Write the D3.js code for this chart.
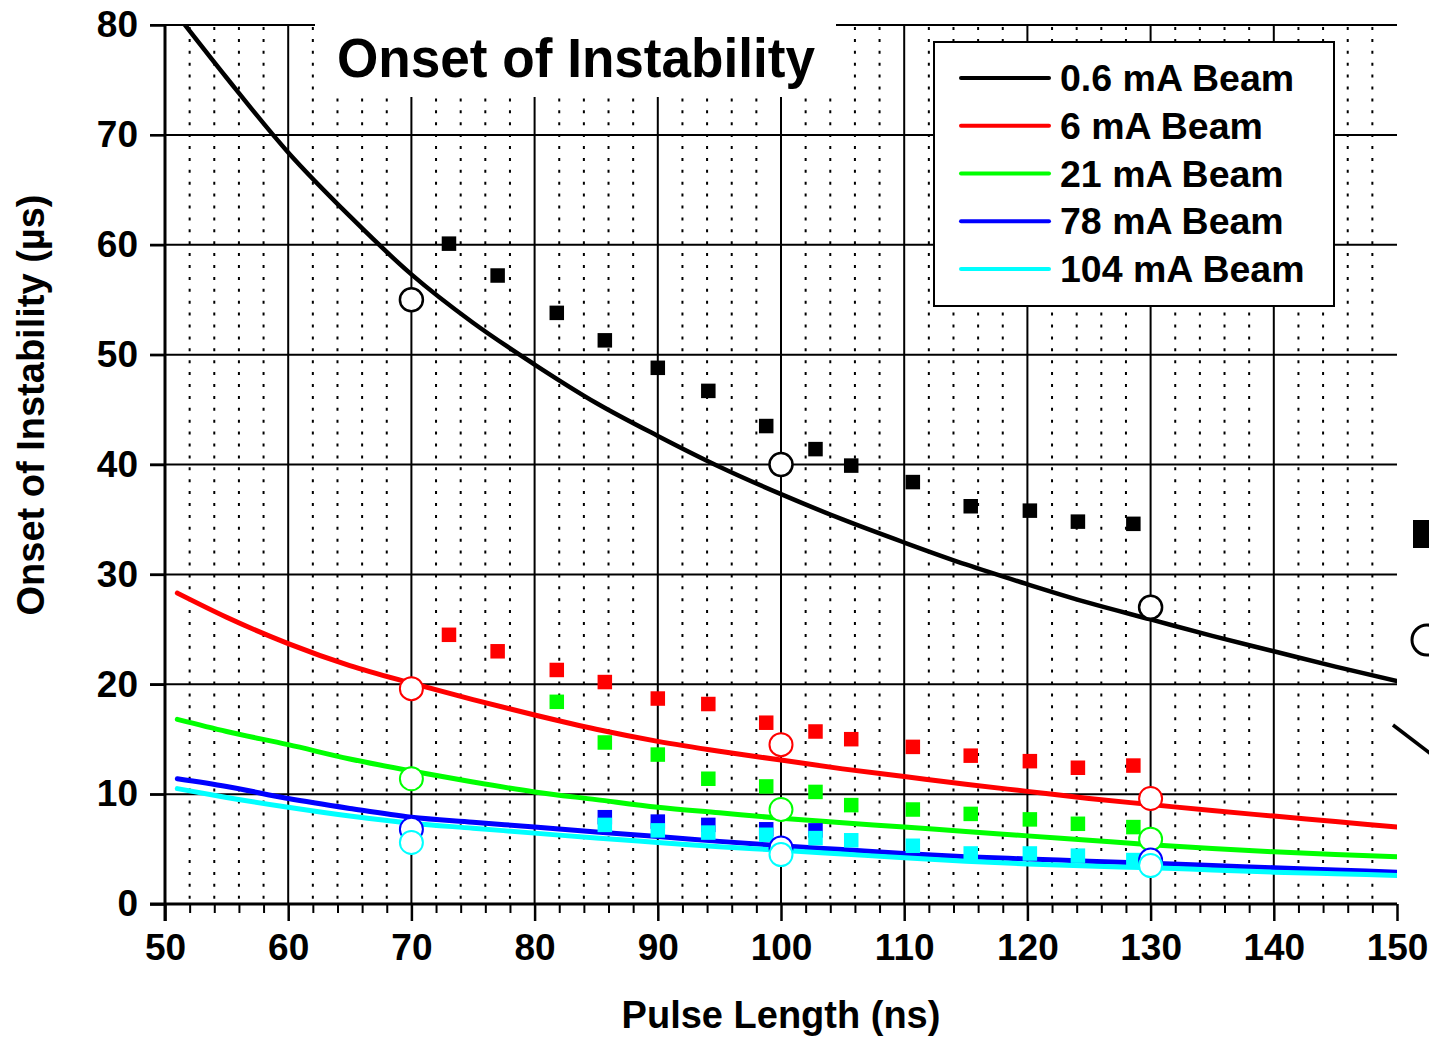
<!DOCTYPE html>
<html>
<head>
<meta charset="utf-8">
<script src="https://cdn.jsdelivr.net/npm/d3@7"></script>
<style>
  body { margin: 0; background: #fff; }
  text { font-family: "Liberation Sans", Arial, sans-serif; font-weight: bold; fill: #000; }
</style>
</head>
<body>
<svg></svg>
<script>
const width = 1429, height = 1038;

// fitted curves, read at these pulse lengths (ns)
const curveX   = [51, 55, 60, 65, 70, 75, 80, 85, 90, 95, 100, 105, 110, 115, 120, 125, 130, 135, 140, 145, 150];
const curve06  = [80.9, 75.2, 68.4, 62.6, 57.3, 52.9, 49.1, 45.6, 42.6, 39.8, 37.3, 35.0, 32.9, 30.9, 29.1, 27.4, 25.9, 24.4, 23.0, 21.6, 20.3];
const curve6   = [28.3, 26.1, 23.7, 21.7, 20.1, 18.6, 17.2, 15.9, 14.8, 13.9, 13.1, 12.3, 11.6, 10.9, 10.25, 9.6, 9.05, 8.5, 8.0, 7.5, 7.0];
const curve21  = [16.8, 15.7, 14.5, 13.2, 12.1, 11.1, 10.2, 9.5, 8.8, 8.3, 7.8, 7.4, 7.0, 6.6, 6.2, 5.8, 5.4, 5.05, 4.75, 4.5, 4.3];
const curve78  = [11.4, 10.7, 9.6, 8.7, 7.9, 7.45, 7.0, 6.55, 6.15, 5.7, 5.3, 4.95, 4.6, 4.3, 4.1, 3.9, 3.7, 3.5, 3.3, 3.1, 2.9];
const curve104 = [10.5, 9.7, 8.8, 8.0, 7.35, 6.9, 6.45, 6.0, 5.6, 5.2, 4.9, 4.55, 4.2, 3.9, 3.65, 3.45, 3.3, 3.1, 2.9, 2.75, 2.6];

// measured points (filled squares)
const pulseX  = [73.05, 77.0, 81.8, 85.7, 90.0, 94.1, 98.8, 102.8, 105.7, 110.7, 115.4, 120.2, 124.1, 128.6];
const meas06  = [60.1, 57.2, 53.8, 51.3, 48.8, 46.7, 43.5, 41.4, 39.9, 38.4, 36.2, 35.8, 34.8, 34.6];
const meas6   = [24.5, 23.0, 21.3, 20.2, 18.7, 18.2, 16.5, 15.7, 15.0, 14.3, 13.5, 13.0, 12.4, 12.6];
const meas21  = [null, null, 18.4, 14.7, 13.6, 11.4, 10.7, 10.2, 9.0, 8.6, 8.2, 7.7, 7.3, 7.0];
const meas78  = [null, null, null, 7.9, 7.5, 7.2, 6.8, 6.7, null, null, null, null, null, null];
const meas104 = [null, null, null, 7.2, 6.7, 6.5, 6.3, 6.0, 5.8, 5.3, 4.6, 4.6, 4.4, 4.0];

// open circles
const circleX   = [70, 100, 130];
const circle06  = [55.0, 40.0, 27.0];
const circle6   = [19.6, 14.5, 9.6];
const circle21  = [11.4, 8.6, 5.9];
const circle78  = [6.8, 5.1, 4.0];
const circle104 = [5.6, 4.5, 3.5];

const seriesNames  = ['0.6 mA Beam', '6 mA Beam', '21 mA Beam', '78 mA Beam', '104 mA Beam'];
const seriesColors = ['#000000', '#ff0000', '#00ff00', '#0000ff', '#00ffff'];

const xTicks = [50, 60, 70, 80, 90, 100, 110, 120, 130, 140, 150];
const yTicks = [0, 10, 20, 30, 40, 50, 60, 70, 80];

const series = [
  {curve: curve06,  meas: meas06,  circ: circle06},
  {curve: curve6,   meas: meas6,   circ: circle6},
  {curve: curve21,  meas: meas21,  circ: circle21},
  {curve: curve78,  meas: meas78,  circ: circle78},
  {curve: curve104, meas: meas104, circ: circle104}
].map((s, i) => ({...s, name: seriesNames[i], color: seriesColors[i]}));

const svg = d3.select('svg')
  .attr('width', width)
  .attr('height', height)
  .style('background', '#fff');

const x = d3.scaleLinear().domain([50, 150]).range([165, 1397]);
const y = d3.scaleLinear().domain([0, 80]).range([904, 25]);

// grid
const minor = d3.range(52, 150, 2).filter(v => v % 10 !== 0);
svg.append('g').selectAll('line').data(minor).enter().append('line')
  .attr('x1', d => x(d)).attr('x2', d => x(d))
  .attr('y1', y(80) + 2).attr('y2', y(0))
  .attr('stroke', '#000').attr('stroke-width', 2)
  .attr('stroke-dasharray', '3,8.9');

svg.append('g').selectAll('line').data(xTicks.slice(1, -1)).enter().append('line')
  .attr('x1', d => x(d)).attr('x2', d => x(d))
  .attr('y1', y(80)).attr('y2', y(0))
  .attr('stroke', '#000').attr('stroke-width', 2);

svg.append('g').selectAll('line').data(yTicks.slice(1)).enter().append('line')
  .attr('x1', 150).attr('x2', x(150))
  .attr('y1', d => y(d)).attr('y2', d => y(d))
  .attr('stroke', '#000').attr('stroke-width', 2);

// white patch behind the title
svg.append('rect').attr('x', 315).attr('y', 0).attr('width', 521).attr('height', 97).attr('fill', '#fff');

// axes
const xAxis = svg.append('g')
  .attr('transform', `translate(0,${y(0)})`)
  .call(d3.axisBottom(x).tickValues(xTicks).tickSize(17).tickPadding(13).tickFormat(d3.format('d')));
xAxis.select('.domain').remove();
xAxis.selectAll('line').attr('stroke-width', 2.5);
xAxis.selectAll('text').style('font-size', '37px').attr('dy', '0.71em').attr('fill', '#000');

svg.append('g')
  .attr('transform', `translate(0,${y(0)})`)
  .call(d3.axisBottom(x).tickValues(minor).tickSize(9).tickFormat(''))
  .call(g => g.select('.domain').remove())
  .selectAll('line').attr('stroke-width', 2);

svg.append('line')
  .attr('x1', 150).attr('x2', x(150)).attr('y1', y(0)).attr('y2', y(0))
  .attr('stroke', '#000').attr('stroke-width', 3);

const yAxis = svg.append('g')
  .attr('transform', `translate(${x(50)},0)`)
  .call(d3.axisLeft(y).tickValues(yTicks).tickSize(15).tickPadding(12));
yAxis.select('.domain').attr('stroke-width', 3).attr('d', `M0,${y(80)}V${y(0) + 17}`);
yAxis.selectAll('line').attr('stroke-width', 2.5);
yAxis.selectAll('text').style('font-size', '37px').attr('fill', '#000');

// clip for curves
svg.append('clipPath').attr('id', 'plot')
  .append('rect').attr('x', x(50)).attr('y', y(80)).attr('width', x(150) - x(50)).attr('height', y(0) - y(80));

const line = d3.line().x(d => x(d[0])).y(d => y(d[1])).curve(d3.curveMonotoneX);

svg.append('g').attr('clip-path', 'url(#plot)')
  .selectAll('path').data(series).enter().append('path')
  .attr('d', s => line(curveX.map((v, i) => [v, s.curve[i]])))
  .attr('fill', 'none')
  .attr('stroke', s => s.color)
  .attr('stroke-width', s => s.color === '#000000' ? 4.5 : 5)
  .attr('stroke-linecap', 'round');

// measured squares
const sq = 14.5;
series.forEach(s => {
  svg.append('g').selectAll('rect')
    .data(pulseX.map((v, i) => [v, s.meas[i]]).filter(d => d[1] != null))
    .enter().append('rect')
    .attr('x', d => x(d[0]) - sq / 2).attr('y', d => y(d[1]) - sq / 2)
    .attr('width', sq).attr('height', sq)
    .attr('fill', s.color);
});

// open circles
series.forEach(s => {
  svg.append('g').selectAll('circle')
    .data(circleX.map((v, i) => [v, s.circ[i]]))
    .enter().append('circle')
    .attr('cx', d => x(d[0])).attr('cy', d => y(d[1])).attr('r', 11.5)
    .attr('fill', '#fff').attr('stroke', s.color)
    .attr('stroke-width', s.color === '#000000' ? 2.5 : 2);
});

// title
svg.append('text')
  .attr('x', 576).attr('y', 77)
  .attr('text-anchor', 'middle')
  .attr('textLength', 478).attr('lengthAdjust', 'spacingAndGlyphs')
  .style('font-size', '55px')
  .text('Onset of Instability');

// axis titles
svg.append('text')
  .attr('x', 781).attr('y', 1028)
  .attr('text-anchor', 'middle')
  .style('font-size', '38px')
  .text('Pulse Length (ns)');

svg.append('text')
  .attr('transform', 'translate(44,405) rotate(-90)')
  .attr('text-anchor', 'middle')
  .style('font-size', '38px')
  .text('Onset of Instability (\u00b5s)');

// legend
const legend = svg.append('g');
legend.append('rect')
  .attr('x', 934).attr('y', 42).attr('width', 400).attr('height', 264)
  .attr('fill', '#fff').attr('stroke', '#000').attr('stroke-width', 2);

const legendY = d3.scalePoint().domain(seriesNames).range([78, 269]);
const items = legend.selectAll('g.item').data(series).enter().append('g')
  .attr('transform', s => `translate(0,${legendY(s.name)})`);
items.append('line')
  .attr('x1', 961).attr('x2', 1049)
  .attr('stroke', s => s.color).attr('stroke-width', 4).attr('stroke-linecap', 'round');
items.append('text')
  .attr('x', 1060).attr('y', 13)
  .style('font-size', '37.5px')
  .text(s => s.name);

// cut-off second legend at the right edge
const extra = svg.append('g');
extra.append('rect').attr('x', 1413).attr('y', 520).attr('width', 28).attr('height', 28).attr('fill', '#000');
extra.append('circle').attr('cx', 1427).attr('cy', 640).attr('r', 15)
  .attr('fill', '#fff').attr('stroke', '#000').attr('stroke-width', 3);
extra.append('line').attr('x1', 1393).attr('y1', 725).attr('x2', 1440).attr('y2', 761)
  .attr('stroke', '#000').attr('stroke-width', 3.5);
</script>
</body>
</html>
